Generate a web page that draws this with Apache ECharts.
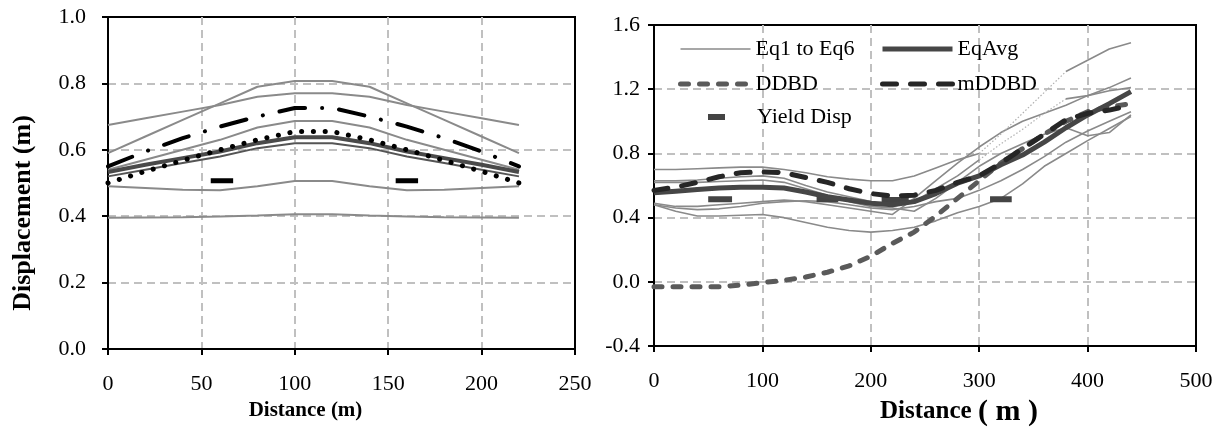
<!DOCTYPE html>
<html>
<head>
<meta charset="utf-8">
<script src="https://cdn.jsdelivr.net/npm/echarts@6/dist/echarts.min.js"></script>
<style>
  html, body { margin: 0; padding: 0; background: #fff; }
  #container { width: 1226px; height: 432px; }
</style>
</head>
<body>
<div id="container"></div>
<script>
// left chart: distance (m) vs displacement (m)
const leftDist = [0, 20, 40, 60, 80, 100, 120, 140, 160, 180, 200, 220];
const leftEq1 = [0.675, 0.695, 0.715, 0.735, 0.76, 0.77, 0.77, 0.76, 0.735, 0.715, 0.695, 0.675];
const leftEq2 = [0.59, 0.64, 0.69, 0.74, 0.79, 0.807, 0.807, 0.79, 0.74, 0.69, 0.64, 0.59];
const leftEq3 = [0.54, 0.57, 0.60, 0.63, 0.667, 0.687, 0.687, 0.667, 0.63, 0.60, 0.57, 0.54];
const leftEq4 = [0.52, 0.54, 0.56, 0.58, 0.605, 0.62, 0.62, 0.605, 0.58, 0.56, 0.54, 0.52];
const leftEq5 = [0.49, 0.485, 0.48, 0.478, 0.49, 0.506, 0.506, 0.49, 0.478, 0.48, 0.485, 0.49];
const leftEq6 = [0.395, 0.396, 0.397, 0.399, 0.402, 0.406, 0.406, 0.402, 0.399, 0.397, 0.396, 0.395];
const leftAvg = [0.533, 0.555, 0.575, 0.595, 0.62, 0.638, 0.638, 0.62, 0.595, 0.575, 0.555, 0.533];
const leftDashDot = [0.55, 0.595, 0.635, 0.67, 0.70, 0.726, 0.726, 0.70, 0.67, 0.635, 0.595, 0.55];
const leftDotted = [0.50, 0.535, 0.568, 0.60, 0.63, 0.655, 0.655, 0.63, 0.60, 0.568, 0.535, 0.50];
const leftYield = [[55, 0.507], [67, 0.507], [110, '-'], [154, 0.507], [166, 0.507]];

// right chart
const rightDist = [0, 20, 40, 60, 80, 100, 120, 140, 160, 180, 200, 220, 240, 260, 280, 300, 320, 340, 360, 380, 400, 420, 440];
const rightEq1 = [0.70, 0.70, 0.705, 0.71, 0.715, 0.715, 0.70, 0.68, 0.655, 0.64, 0.63, 0.63, 0.66, 0.71, 0.76, 0.80, 0.92, 1.05, 1.18, 1.31, 1.38, 1.45, 1.49];
const rightEq2 = [0.63, 0.63, 0.635, 0.645, 0.655, 0.66, 0.645, 0.60, 0.56, 0.53, 0.50, 0.47, 0.50, 0.58, 0.66, 0.76, 0.86, 0.95, 1.05, 1.14, 1.16, 1.19, 1.21];
const rightEq3 = [0.49, 0.47, 0.47, 0.48, 0.49, 0.50, 0.51, 0.50, 0.48, 0.46, 0.44, 0.42, 0.52, 0.63, 0.74, 0.84, 0.93, 1.00, 1.05, 1.10, 1.16, 1.21, 1.27];
const rightEq4 = [0.62, 0.62, 0.62, 0.625, 0.63, 0.635, 0.62, 0.58, 0.54, 0.50, 0.47, 0.46, 0.44, 0.52, 0.62, 0.72, 0.80, 0.86, 0.92, 0.96, 0.91, 0.93, 1.04];
const rightEq5 = [0.48, 0.46, 0.45, 0.455, 0.47, 0.49, 0.50, 0.505, 0.50, 0.48, 0.46, 0.45, 0.47, 0.50, 0.52, 0.57, 0.63, 0.70, 0.78, 0.87, 0.94, 1.00, 1.06];
const rightEq6 = [0.48, 0.44, 0.41, 0.41, 0.415, 0.42, 0.40, 0.37, 0.34, 0.32, 0.31, 0.32, 0.34, 0.38, 0.43, 0.47, 0.52, 0.61, 0.72, 0.80, 0.88, 0.955, 1.03];
const rightAvg = [0.555, 0.565, 0.575, 0.585, 0.59, 0.59, 0.585, 0.56, 0.53, 0.51, 0.49, 0.48, 0.50, 0.55, 0.615, 0.66, 0.73, 0.79, 0.87, 0.96, 1.04, 1.11, 1.185];
const rightDDBD = [-0.03, -0.03, -0.03, -0.03, -0.02, -0.005, 0.01, 0.03, 0.06, 0.10, 0.16, 0.24, 0.31, 0.41, 0.52, 0.63, 0.74, 0.83, 0.92, 1.00, 1.06, 1.09, 1.11];
const rightMDDBD = [0.57, 0.59, 0.62, 0.655, 0.68, 0.685, 0.68, 0.65, 0.62, 0.58, 0.55, 0.535, 0.54, 0.57, 0.62, 0.66, 0.74, 0.83, 0.92, 1.01, 1.05, 1.07, 1.10];
const rightYield = [[50, 0.515], [72, 0.515], [110, '-'], [150, 0.515], [170, 0.515], [190, '-'], [210, 0.51], [235, 0.51], [270, '-'], [310, 0.515], [330, 0.515]];
// Eq1 and Eq2 are drawn faint dotted between these two distances
const gapFrom = 300, gapTo = 380;

const FONT = 'Liberation Serif';

function pairs(xs, ys) {
  return xs.map((x, i) => [x, ys[i]]);
}

// solid part outside the gap, blank inside it
function solidPart(xs, ys) {
  return xs.map((x, i) => [x, (x > gapFrom && x < gapTo) ? '-' : ys[i]]);
}

function gapPart(xs, ys) {
  return pairs(xs, ys).filter(p => p[0] >= gapFrom && p[0] <= gapTo);
}

function line(name, idx, data, style) {
  return {
    name: name,
    type: 'line',
    xAxisIndex: idx,
    yAxisIndex: idx,
    symbol: 'none',
    silent: true,
    data: data,
    lineStyle: style,
    itemStyle: { color: style.color }
  };
}

const gridLine = { show: true, showMinLine: false, showMaxLine: false, lineStyle: { color: '#c0c0c0', width: 2, type: [8, 5] } };
const blackLine = { show: true, onZero: false, lineStyle: { color: '#000', width: 2 } };
const tick = { show: true, length: 6, lineStyle: { color: '#000', width: 2 } };
const label = { color: '#000', fontFamily: FONT, fontSize: 22 };

const legendBase = {
  orient: 'vertical', padding: 0,
  itemWidth: 70, itemHeight: 20, itemGap: 13,
  selectedMode: false,
  lineStyle: { width: 'inherit' },
  itemStyle: { opacity: 0 },
  textStyle: { fontFamily: FONT, fontSize: 22, color: '#000' }
};

var dom = document.getElementById('container');
var myChart = echarts.init(dom, null, { renderer: 'canvas' });

const gray = { color: '#8a8a8a', width: 1.6 };
const faint = { color: '#b0b0b0', width: 1.2, type: [1.5, 2] };

var option = {
  animation: false,
  backgroundColor: '#fff',
  grid: [
    { left: 108, top: 17, width: 467, bottom: 83, show: true, borderColor: '#000', borderWidth: 2 },
    { left: 654, top: 25, right: 30, bottom: 83, show: true, borderColor: '#000', borderWidth: 2 }
  ],
  legend: [
    Object.assign({}, legendBase, { data: ['Eq1 to Eq6', 'DDBD'], left: 678, top: 38 }),
    Object.assign({}, legendBase, { data: ['EqAvg', 'mDDBD'], left: 880, top: 38 }),
    Object.assign({}, legendBase, {
      data: ['Yield Disp'], left: 705, top: 106, itemWidth: 17,
      formatter: function (name) { return '{p|}' + name; },
      textStyle: { fontFamily: FONT, fontSize: 22, color: '#000', rich: { p: { width: 27 } } }
    })
  ],
  xAxis: [
    {
      gridIndex: 0, type: 'value', min: 0, max: 250, interval: 50,
      axisLine: blackLine, axisTick: tick, splitLine: gridLine,
      axisLabel: Object.assign({ margin: 24 }, label),
      name: 'Distance (m)', nameLocation: 'middle', nameGap: 50,
      nameTextStyle: { fontFamily: FONT, fontSize: 21, fontWeight: 'bold', color: '#000', padding: [0, 72, 0, 0] }
    },
    {
      gridIndex: 1, type: 'value', min: 0, max: 500, interval: 100,
      axisLine: blackLine, axisTick: tick, splitLine: gridLine,
      axisLabel: Object.assign({ margin: 24 }, label),
      name: '{a|Distance }{b|( m )}', nameLocation: 'middle', nameGap: 46,
      nameTextStyle: {
        color: '#000',
        padding: [0, 0, 0, 68],
        rich: {
          a: { fontFamily: FONT, fontSize: 25, fontWeight: 'bold', color: '#000' },
          b: { fontFamily: FONT, fontSize: 30, fontWeight: 'bold', color: '#000' }
        }
      }
    }
  ],
  yAxis: [
    {
      gridIndex: 0, type: 'value', min: 0, max: 1, interval: 0.2,
      axisLine: blackLine, axisTick: tick, splitLine: gridLine,
      axisLabel: Object.assign({ margin: 22, formatter: v => v.toFixed(1) }, label),
      name: 'Displacement (m)', nameLocation: 'middle', nameGap: 72,
      nameTextStyle: { fontFamily: FONT, fontSize: 26, fontWeight: 'bold', color: '#000', padding: [0, 60, 0, 0] }
    },
    {
      gridIndex: 1, type: 'value', min: -0.4, max: 1.6, interval: 0.4,
      axisLine: blackLine, axisTick: tick, splitLine: gridLine,
      axisLabel: Object.assign({ margin: 14, formatter: v => v.toFixed(1) }, label)
    }
  ],
  series: [
    // right chart
    line('Eq1 to Eq6', 1, solidPart(rightDist, rightEq1), gray),
    line('Eq1 to Eq6', 1, solidPart(rightDist, rightEq2), gray),
    line('Eq1 to Eq6', 1, pairs(rightDist, rightEq3), gray),
    line('Eq1 to Eq6', 1, pairs(rightDist, rightEq4), gray),
    line('Eq1 to Eq6', 1, pairs(rightDist, rightEq5), gray),
    line('Eq1 to Eq6', 1, pairs(rightDist, rightEq6), gray),
    line('Eq gap 1', 1, gapPart(rightDist, rightEq1), faint),
    line('Eq gap 2', 1, gapPart(rightDist, rightEq2), faint),
    line('DDBD', 1, pairs(rightDist, rightDDBD), { color: '#5a5a5a', width: 5, type: [8, 11], cap: 'round' }),
    line('Yield Disp', 1, rightYield, { color: '#444', width: 6 }),
    line('EqAvg', 1, pairs(rightDist, rightAvg), { color: '#464646', width: 5 }),
    line('mDDBD', 1, pairs(rightDist, rightMDDBD), { color: '#262626', width: 5, type: [14, 14], cap: 'round' }),
    // left chart
    line('L1', 0, pairs(leftDist, leftEq1), { color: '#8a8a8a', width: 2 }),
    line('L2', 0, pairs(leftDist, leftEq2), { color: '#8a8a8a', width: 2 }),
    line('L3', 0, pairs(leftDist, leftEq3), { color: '#8a8a8a', width: 2 }),
    line('L4', 0, pairs(leftDist, leftEq4), { color: '#555', width: 2 }),
    line('L5', 0, pairs(leftDist, leftEq5), { color: '#8a8a8a', width: 2 }),
    line('L6', 0, pairs(leftDist, leftEq6), { color: '#8a8a8a', width: 2 }),
    line('L7', 0, pairs(leftDist, leftAvg), { color: '#4a4a4a', width: 4 }),
    line('L8', 0, pairs(leftDist, leftDashDot), { color: '#000', width: 4, type: [26, 17, 0.1, 17], cap: 'round' }),
    line('L9', 0, pairs(leftDist, leftDotted), { color: '#000', width: 5, type: [0.1, 11.7], cap: 'round' }),
    line('L10', 0, leftYield, { color: '#000', width: 5 })
  ]
};

myChart.setOption(option);
window.onresize = function () {
  myChart.resize();
};
</script>
</body>
</html>
